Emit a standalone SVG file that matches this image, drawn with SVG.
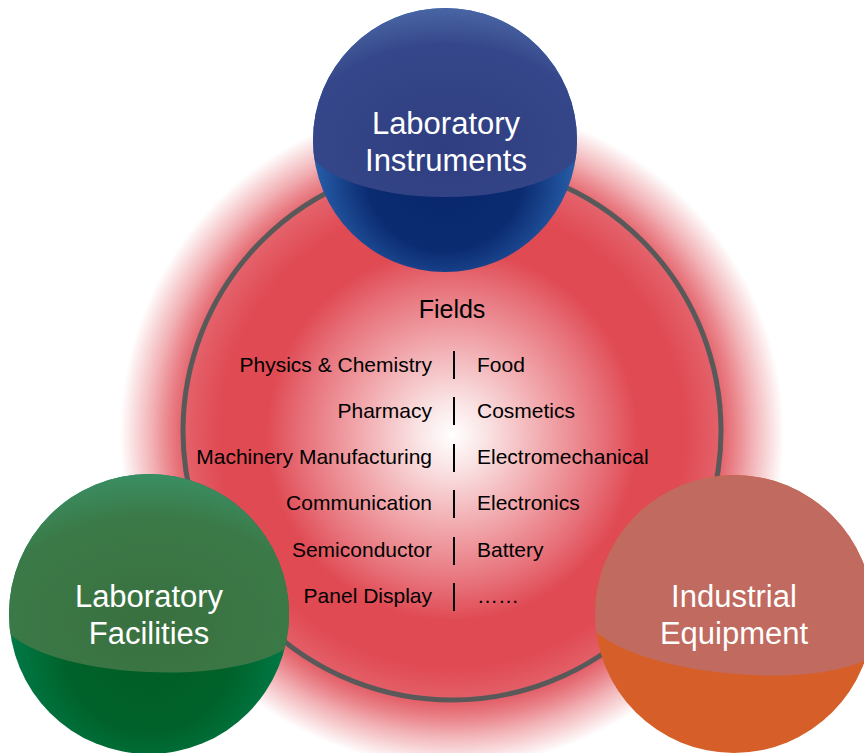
<svg xmlns="http://www.w3.org/2000/svg" width="864" height="753" viewBox="0 0 864 753">
<defs>
<radialGradient id="glow" cx="452" cy="435" r="332" gradientUnits="userSpaceOnUse">
<stop offset="0" stop-color="#FFFFFF"/>
<stop offset="0.1" stop-color="#FAE4E5"/>
<stop offset="0.3" stop-color="#F0A2A7"/>
<stop offset="0.45" stop-color="#E7717A"/>
<stop offset="0.56" stop-color="#E04A53"/>
<stop offset="0.7" stop-color="#E04A53"/>
<stop offset="0.81" stop-color="#E4626B"/>
<stop offset="0.9" stop-color="#E04A53" stop-opacity="0.45"/>
<stop offset="1" stop-color="#E04A53" stop-opacity="0"/>
</radialGradient>
<radialGradient id="blueBase" cx="0.5" cy="0.62" r="0.55">
<stop offset="0" stop-color="#06256A"/>
<stop offset="0.55" stop-color="#0C2C72"/>
<stop offset="1" stop-color="#2E6CB8"/>
</radialGradient>
<radialGradient id="blueHi" cx="0.5" cy="0.75" r="0.75">
<stop offset="0" stop-color="#2F3E80"/>
<stop offset="0.7" stop-color="#35478A"/>
<stop offset="1" stop-color="#4E6CAA"/>
</radialGradient>
<radialGradient id="greenBase" cx="0.5" cy="0.62" r="0.55">
<stop offset="0" stop-color="#005C24"/>
<stop offset="0.55" stop-color="#00622A"/>
<stop offset="1" stop-color="#00804E"/>
</radialGradient>
<radialGradient id="greenHi" cx="0.5" cy="0.75" r="0.75">
<stop offset="0" stop-color="#3A7040"/>
<stop offset="0.7" stop-color="#3B7A48"/>
<stop offset="1" stop-color="#3A9066"/>
</radialGradient>
<clipPath id="cBlue"><circle cx="445" cy="140" r="132"/></clipPath>
<clipPath id="cGreen"><circle cx="149" cy="614" r="140"/></clipPath>
<clipPath id="cOrange"><circle cx="734" cy="614" r="139"/></clipPath>
<style>
.ring{fill:none;stroke:#595959;stroke-width:5}
.lbl{font-family:"Liberation Sans",Arial,sans-serif;font-size:31px;fill:#FFFFFF;text-anchor:middle}
.title{font-family:"Liberation Sans",Arial,sans-serif;font-size:25px;fill:#000000;text-anchor:middle}
.l{font-family:"Liberation Sans",Arial,sans-serif;font-size:21px;fill:#000000;text-anchor:end}
.r{font-family:"Liberation Sans",Arial,sans-serif;font-size:21px;fill:#000000;text-anchor:start}
.sep{stroke:#000000;stroke-width:2}
</style>
</defs>
<rect width="864" height="753" fill="#FFFFFF"/>
<g id="fields">
<circle cx="452" cy="435" r="332" fill="url(#glow)"/>
<circle class="ring" cx="452" cy="431" r="269"/>
<text class="title" x="452" y="318">Fields</text>
<g class="sep">
<line x1="454" y1="351" x2="454" y2="379"/>
<line x1="454" y1="397" x2="454" y2="425"/>
<line x1="454" y1="444" x2="454" y2="472"/>
<line x1="454" y1="490" x2="454" y2="518"/>
<line x1="454" y1="537" x2="454" y2="565"/>
<line x1="454" y1="583" x2="454" y2="611"/>
</g>
<text class="l" x="432" y="372">Physics &amp; Chemistry</text>
<text class="l" x="432" y="418">Pharmacy</text>
<text class="l" x="432" y="464">Machinery Manufacturing</text>
<text class="l" x="432" y="510">Communication</text>
<text class="l" x="432" y="557">Semiconductor</text>
<text class="l" x="432" y="603">Panel Display</text>
<text class="r" x="477" y="372">Food</text>
<text class="r" x="477" y="418">Cosmetics</text>
<text class="r" x="477" y="464">Electromechanical</text>
<text class="r" x="477" y="510">Electronics</text>
<text class="r" x="477" y="557">Battery</text>
<text class="r" x="477" y="603">……</text>
</g>
<g id="instruments">
<circle cx="445" cy="140" r="132" fill="url(#blueBase)"/>
<path clip-path="url(#cBlue)" d="M305,0 L585,0 L585,140 A140,57 0 0 1 305,140 Z" fill="url(#blueHi)"/>
<text class="lbl" x="446" y="134">Laboratory</text>
<text class="lbl" x="446" y="171">Instruments</text>
</g>
<g id="facilities">
<circle cx="149" cy="614" r="140" fill="url(#greenBase)"/>
<path clip-path="url(#cGreen)" d="M0,470 L300,470 L300,630 A150.3,51 2.5 0 1 0,617 Z" fill="url(#greenHi)"/>
<text class="lbl" x="149" y="607">Laboratory</text>
<text class="lbl" x="149" y="644">Facilities</text>
</g>
<g id="industrial">
<circle cx="734" cy="614" r="139" fill="#D65F29"/>
<path clip-path="url(#cOrange)" d="M585,470 L885,470 L885,640 A150.7,49 5.3 0 1 585,612 Z" fill="#C06A60"/>
<text class="lbl" x="734" y="607">Industrial</text>
<text class="lbl" x="734" y="644">Equipment</text>
</g>
</svg>
